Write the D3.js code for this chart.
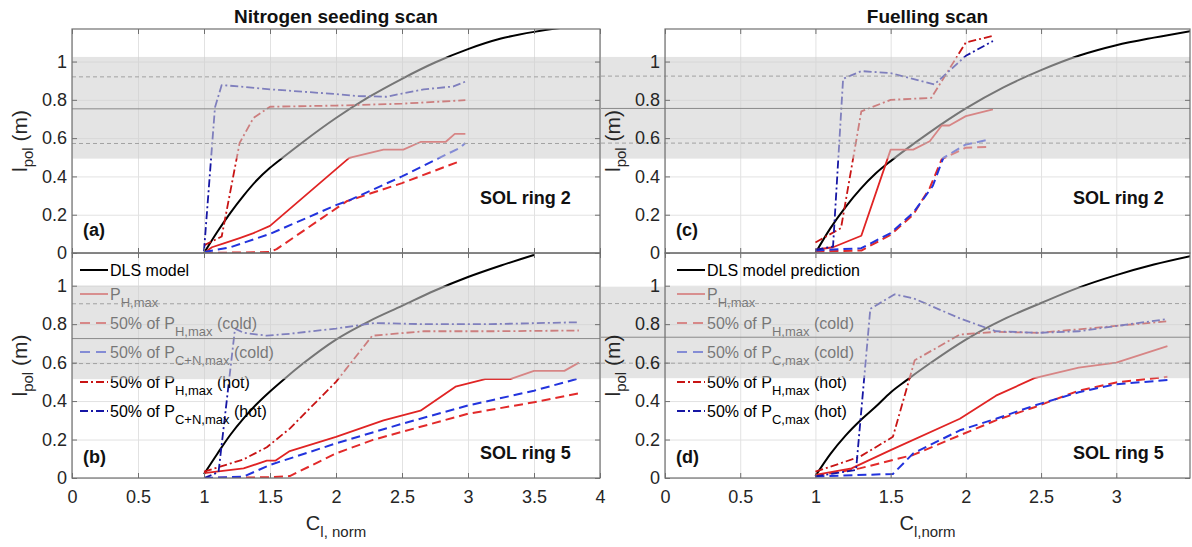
<!DOCTYPE html>
<html>
<head>
<meta charset="utf-8">
<script src="https://cdn.jsdelivr.net/npm/d3@7"></script>
<style>
  body { margin: 0; background: #fff; }
  svg { font-family: "Liberation Sans", Arial, Helvetica, sans-serif; }
  text { white-space: pre; }
</style>
</head>
<body>
<svg id="chart" width="1192" height="547"></svg>
<script>
// ---- data ----
var yDomain = [0, 1.17];
var yTicks = [0, 0.2, 0.4, 0.6, 0.8, 1];
var yTickLabels = ['0', '0.2', '0.4', '0.6', '0.8', '1'];
var xTicksNitro = [0, 0.5, 1, 1.5, 2, 2.5, 3, 3.5, 4];
var xTickLabelsNitro = ['0', '0.5', '1', '1.5', '2', '2.5', '3', '3.5', '4'];
var xTicksFuel = [0, 0.5, 1, 1.5, 2, 2.5, 3];
var xTickLabelsFuel = ['0', '0.5', '1', '1.5', '2', '2.5', '3'];

// (a) nitrogen seeding, SOL ring 2
var aDLS = [[1,0],[1.1,0.11],[1.2,0.21],[1.3,0.3],[1.4,0.38],[1.5,0.445],[1.6,0.5],[1.75,0.58],[2,0.705],[2.25,0.815],[2.5,0.91],[2.75,0.995],[3,1.065],[3.25,1.12],[3.5,1.155],[3.75,1.18]];
var aPH = [[1,0],[1.06,0.03],[1.15,0.05],[1.27,0.078],[1.375,0.104],[1.5,0.142],[2.1,0.497],[2.36,0.54],[2.51,0.54],[2.64,0.58],[2.83,0.58],[2.9,0.622],[2.98,0.622]];
var aColdH = [[1,0],[1.5,0.005],[1.55,0.02],[2.08,0.27],[2.5,0.365],[2.94,0.48]];
var aColdC = [[1,0.005],[1.2,0.03],[1.5,0.1],[2,0.25],[2.1,0.275],[2.5,0.4],[2.94,0.55],[2.98,0.575]];
var aHotH = [[1,0.04],[1.134,0.086],[1.27,0.575],[1.375,0.706],[1.5,0.764],[2,0.77],[2.5,0.78],[2.98,0.798]];
var aHotC = [[1,0.01],[1.083,0.76],[1.134,0.877],[1.27,0.87],[1.5,0.855],[2,0.83],[2.16,0.82],[2.38,0.816],[2.5,0.833],[2.665,0.855],[2.89,0.87],[2.98,0.895]];

// (b) nitrogen seeding, SOL ring 5
var bDLS = [[1,0.02],[1.1,0.125],[1.2,0.225],[1.3,0.31],[1.4,0.385],[1.5,0.45],[1.6,0.51],[1.75,0.595],[2,0.72],[2.25,0.815],[2.5,0.895],[2.75,0.975],[3,1.045],[3.25,1.105],[3.5,1.16]];
var bPH = [[1,0.025],[1.3,0.05],[1.476,0.09],[1.54,0.09],[1.65,0.14],[2,0.214],[2.36,0.3],[2.64,0.35],[2.905,0.475],[3.13,0.514],[3.32,0.514],[3.5,0.557],[3.73,0.557],[3.84,0.6]];
var bColdH = [[1,0],[1.5,0.004],[1.65,0.01],[2,0.128],[2.275,0.197],[2.5,0.24],[3,0.334],[3.5,0.394],[3.84,0.44]];
var bColdC = [[1,0],[1.3,0.007],[1.5,0.068],[2,0.18],[2.5,0.282],[3,0.377],[3.5,0.454],[3.84,0.518]];
var bHotH = [[1,0.033],[1.3,0.097],[1.476,0.16],[1.65,0.257],[2,0.5],[2.275,0.74],[2.665,0.763],[3.17,0.763],[3.84,0.767]];
var bHotC = [[1,0],[1.11,0.03],[1.235,0.777],[1.3,0.755],[1.476,0.74],[1.65,0.75],[2,0.777],[2.29,0.806],[2.665,0.8],[3.17,0.8],[3.84,0.81]];

// (c) fuelling, SOL ring 2
var cDLS = [[1,0],[1.1,0.13],[1.2,0.24],[1.3,0.335],[1.4,0.415],[1.5,0.48],[1.6,0.54],[1.75,0.625],[2,0.755],[2.25,0.865],[2.5,0.955],[2.75,1.03],[3,1.085],[3.25,1.125],[3.5,1.16]];
var cPH = [[1,0.017],[1.117,0.03],[1.305,0.09],[1.5,0.54],[1.65,0.54],[1.76,0.584],[1.84,0.666],[1.89,0.666],[2,0.715],[2.18,0.75]];
var cColdH = [[1,0.008],[1.305,0.013],[1.5,0.095],[1.65,0.2],[1.76,0.34],[1.84,0.49],[2,0.55],[2.16,0.554]];
var cColdC = [[1,0.013],[1.305,0.025],[1.5,0.104],[1.65,0.21],[1.78,0.35],[1.85,0.497],[2,0.567],[2.16,0.593]];
var cHotH = [[1,0.055],[1.17,0.13],[1.305,0.74],[1.5,0.8],[1.77,0.81],[2,1.1],[2.18,1.134]];
var cHotC = [[1,0.017],[1.117,0.034],[1.184,0.91],[1.305,0.95],[1.5,0.94],[1.79,0.88],[2,1.03],[2.18,1.107]];

// (d) fuelling, SOL ring 5
var dDLS = [[1,0.01],[1.1,0.125],[1.2,0.22],[1.3,0.3],[1.4,0.37],[1.5,0.445],[1.6,0.505],[1.75,0.59],[2,0.72],[2.25,0.825],[2.5,0.91],[2.75,0.99],[3,1.055],[3.25,1.11],[3.5,1.155]];
var dPH = [[1,0.016],[1.24,0.05],[1.5,0.145],[1.96,0.308],[2.2,0.428],[2.456,0.519],[2.75,0.574],[3,0.6],[3.34,0.686]];
var dColdH = [[1,0.011],[1.294,0.05],[1.65,0.12],[1.96,0.222],[2.2,0.3],[2.456,0.368],[2.75,0.454],[3,0.497],[3.34,0.526]];
var dColdC = [[1,0.008],[1.515,0.021],[1.65,0.128],[1.96,0.248],[2.2,0.308],[2.456,0.377],[2.75,0.446],[3,0.488],[3.34,0.509]];
var dHotH = [[1,0.033],[1.294,0.11],[1.515,0.214],[1.66,0.612],[1.96,0.746],[2.2,0.76],[2.49,0.755],[3.34,0.815]];
var dHotC = [[1,0.008],[1.27,0.042],[1.365,0.88],[1.527,0.955],[1.65,0.935],[1.96,0.83],[2.2,0.763],[2.49,0.755],[2.75,0.763],[3.34,0.827]];

// grey bands: [low, high, middle, dashed low, dashed high]
var bandA = [0.493, 1.024, 0.753, 0.572, 0.92];
var bandB = [0.514, 1.0, 0.725, 0.595, 0.906];
var bandC = [0.493, 1.024, 0.755, 0.574, 0.924];
var bandD = [0.519, 0.995, 0.732, 0.597, 0.907];

var legendNitro = [
  [['DLS model']],
  [['P'], ['H,max', 'sub']],
  [['50% of P'], ['H,max', 'sub'], [' (cold)']],
  [['50% of P'], ['C+N,max', 'sub'], [' (cold)']],
  [['50% of P'], ['H,max', 'sub'], [' (hot)']],
  [['50% of P'], ['C+N,max', 'sub'], [' (hot)']]
];
var legendFuel = [
  [['DLS model prediction']],
  [['P'], ['H,max', 'sub']],
  [['50% of P'], ['H,max', 'sub'], [' (cold)']],
  [['50% of P'], ['C,max', 'sub'], [' (cold)']],
  [['50% of P'], ['H,max', 'sub'], [' (hot)']],
  [['50% of P'], ['C,max', 'sub'], [' (hot)']]
];

// ---- layout / style ----
var seriesKeys = ['dls', 'ph', 'coldH', 'coldC', 'hotH', 'hotC'];
var styles = {
  dls:   { color: '#000000', dash: null,      w: 2 },
  ph:    { color: '#e02424', dash: null,      w: 1.8 },
  coldH: { color: '#e22a2a', dash: '9,5',     w: 2 },
  coldC: { color: '#2233dd', dash: '9,5',     w: 2 },
  hotH:  { color: '#c81414', dash: '8,3,2,3', w: 1.8 },
  hotC:  { color: '#1616a4', dash: '8,3,2,3', w: 1.8 }
};
var cols = [
  { x0: 72,  x1: 600,  dom: [0, 4],    ticks: xTicksNitro, labels: xTickLabelsNitro, bandFrom: 72,  title: 'Nitrogen seeding scan', xlab: ['l, norm'], legend: legendNitro, legX: 80 },
  { x0: 665, x1: 1190, dom: [0, 3.49], ticks: xTicksFuel,  labels: xTickLabelsFuel,  bandFrom: 601, title: 'Fuelling scan',         xlab: ['l,norm'],  legend: legendFuel,  legX: 677 }
];
var rows = [ { y0: 29, y1: 253 }, { y0: 253, y1: 478 } ];
var legendRowY = [270, 294, 323, 352, 382, 411];

var panels = [
  { col: 0, row: 0, tag: '(a)', ring: 'SOL ring 2', band: bandA, data: { dls: aDLS, ph: aPH, coldH: aColdH, coldC: aColdC, hotH: aHotH, hotC: aHotC } },
  { col: 0, row: 1, tag: '(b)', ring: 'SOL ring 5', band: bandB, data: { dls: bDLS, ph: bPH, coldH: bColdH, coldC: bColdC, hotH: bHotH, hotC: bHotC } },
  { col: 1, row: 0, tag: '(c)', ring: 'SOL ring 2', band: bandC, data: { dls: cDLS, ph: cPH, coldH: cColdH, coldC: cColdC, hotH: cHotH, hotC: cHotC } },
  { col: 1, row: 1, tag: '(d)', ring: 'SOL ring 5', band: bandD, data: { dls: dDLS, ph: dPH, coldH: dColdH, coldC: dColdC, hotH: dHotH, hotC: dHotC } }
];

var frameColor = '#707070', gridColor = '#e2e2e2', labelColor = '#262626';

var svg = d3.select('#chart');
var defs = svg.append('defs');

function richText(sel, parts, big, small, shift) {
  var cur = 0;
  parts.forEach(function(pt) {
    var sub = pt[1] === 'sub';
    var t = sel.append('tspan').text(pt[0]).attr('font-size', sub ? small : big);
    var target = sub ? shift : 0;
    if (target !== cur) { t.attr('dy', target - cur); cur = target; }
  });
}

function styleAxis(s, showLabels) {
  s.select('.domain').remove();
  s.selectAll('.tick line').attr('stroke', frameColor);
  s.selectAll('.tick text').attr('fill', labelColor).attr('font-size', 18);
  if (!showLabels) s.selectAll('.tick text').remove();
}

panels.forEach(function(p, i) {
  var col = cols[p.col], row = rows[p.row];
  var x = d3.scaleLinear().domain(col.dom).range([col.x0, col.x1]);
  var y = d3.scaleLinear().domain(yDomain).range([row.y1, row.y0]);
  var w = col.x1 - col.x0, h = row.y1 - row.y0;
  var clipId = 'clip' + i;
  defs.append('clipPath').attr('id', clipId)
    .append('rect').attr('x', col.x0).attr('y', row.y0).attr('width', w).attr('height', h);

  var g = svg.append('g');

  // grid
  g.append('g').attr('transform', 'translate(0,' + row.y1 + ')')
    .call(d3.axisBottom(x).tickValues(col.ticks).tickSize(-h).tickFormat(''))
    .call(function(s) { s.select('.domain').remove(); s.selectAll('line').attr('stroke', gridColor); });
  g.append('g').attr('transform', 'translate(' + col.x0 + ',0)')
    .call(d3.axisLeft(y).tickValues(yTicks).tickSize(-w).tickFormat(''))
    .call(function(s) { s.select('.domain').remove(); s.selectAll('line').attr('stroke', gridColor); });

  // series
  var plot = g.append('g').attr('clip-path', 'url(#' + clipId + ')');
  var straight = d3.line().x(function(d) { return x(d[0]); }).y(function(d) { return y(d[1]); });
  var smooth = d3.line().x(function(d) { return x(d[0]); }).y(function(d) { return y(d[1]); }).curve(d3.curveMonotoneX);
  seriesKeys.forEach(function(k) {
    var st = styles[k];
    plot.append('path')
      .attr('d', (k === 'dls' ? smooth : straight)(p.data[k]))
      .attr('fill', 'none')
      .attr('stroke', st.color)
      .attr('stroke-width', st.w)
      .attr('stroke-dasharray', st.dash)
      .attr('stroke-linejoin', 'round');
  });

  // legend (bottom panels)
  if (p.row === 1) {
    var lg = g.append('g');
    col.legend.forEach(function(parts, j) {
      var st = styles[seriesKeys[j]];
      var ly = legendRowY[j];
      lg.append('line')
        .attr('x1', col.legX).attr('x2', col.legX + 28).attr('y1', ly).attr('y2', ly)
        .attr('stroke', st.color).attr('stroke-width', st.w)
        .attr('stroke-dasharray', st.dash === '9,5' ? '10,6' : st.dash);
      var t = lg.append('text').attr('x', col.legX + 30).attr('y', ly + 5.5).attr('fill', '#000');
      richText(t, parts, 16, 13, 7);
    });
  }

  // grey band drawn over the data (semi transparent)
  var bx0 = col.bandFrom, bx1 = col.x1;
  var bg = g.append('g');
  bg.append('rect')
    .attr('x', bx0).attr('width', bx1 - bx0)
    .attr('y', y(p.band[1])).attr('height', y(p.band[0]) - y(p.band[1]))
    .attr('fill', '#d0d0d0').attr('fill-opacity', 0.57);
  bg.append('line').attr('x1', bx0).attr('x2', bx1).attr('y1', y(p.band[2])).attr('y2', y(p.band[2]))
    .attr('stroke', '#8a8a8a').attr('stroke-width', 1);
  [p.band[3], p.band[4]].forEach(function(v) {
    bg.append('line').attr('x1', bx0).attr('x2', bx1).attr('y1', y(v)).attr('y2', y(v))
      .attr('stroke', '#a2a2a2').attr('stroke-width', 1).attr('stroke-dasharray', '4,3');
  });

  // ticks (inside) and labels
  g.append('g').attr('transform', 'translate(0,' + row.y1 + ')')
    .call(d3.axisBottom(x).tickValues(col.ticks).tickSizeInner(-5).tickSizeOuter(0).tickPadding(12)
      .tickFormat(function(d, k) { return col.labels[k]; }))
    .call(function(s) { styleAxis(s, p.row === 1); });
  g.append('g').attr('transform', 'translate(0,' + row.y0 + ')')
    .call(d3.axisTop(x).tickValues(col.ticks).tickSizeInner(-5).tickSizeOuter(0).tickFormat(''))
    .call(function(s) { styleAxis(s, false); });
  g.append('g').attr('transform', 'translate(' + col.x0 + ',0)')
    .call(d3.axisLeft(y).tickValues(yTicks).tickSizeInner(-5).tickSizeOuter(0).tickPadding(5)
      .tickFormat(function(d, k) { return yTickLabels[k]; }))
    .call(function(s) { styleAxis(s, true); });
  g.append('g').attr('transform', 'translate(' + col.x1 + ',0)')
    .call(d3.axisRight(y).tickValues(yTicks).tickSizeInner(-5).tickSizeOuter(0).tickFormat(''))
    .call(function(s) { styleAxis(s, false); });

  // frame
  g.append('rect').attr('x', col.x0).attr('y', row.y0).attr('width', w).attr('height', h)
    .attr('fill', 'none').attr('stroke', frameColor).attr('stroke-width', 1.2);

  // panel tag and ring label
  g.append('text').attr('x', col.x0 + 11).attr('y', p.row === 0 ? 236 : 463)
    .attr('font-size', 18).attr('font-weight', 'bold').attr('fill', '#111').text(p.tag);
  g.append('text').attr('x', col.x0 + 408).attr('y', p.row === 0 ? 204 : 459)
    .attr('font-size', 18).attr('font-weight', 'bold').attr('fill', '#111').text(p.ring);

  // y label
  var yl = g.append('text')
    .attr('transform', 'translate(' + (col.x0 - 45) + ',' + ((row.y0 + row.y1) / 2) + ') rotate(-90)')
    .attr('text-anchor', 'middle').attr('fill', labelColor);
  richText(yl, [['l'], ['pol', 'sub'], [' (m)']], 21, 15, 6);

  // title and x label once per column
  if (p.row === 0) {
    g.append('text').attr('x', (col.x0 + col.x1) / 2).attr('y', 23)
      .attr('text-anchor', 'middle').attr('font-size', 19).attr('font-weight', 'bold').attr('fill', '#111')
      .text(col.title);
  } else {
    var xl = g.append('text').attr('x', (col.x0 + col.x1) / 2).attr('y', 530)
      .attr('text-anchor', 'middle').attr('fill', labelColor);
    richText(xl, [['C'], [col.xlab[0], 'sub']], 20, 15, 7);
  }
});
</script>
</body>
</html>
